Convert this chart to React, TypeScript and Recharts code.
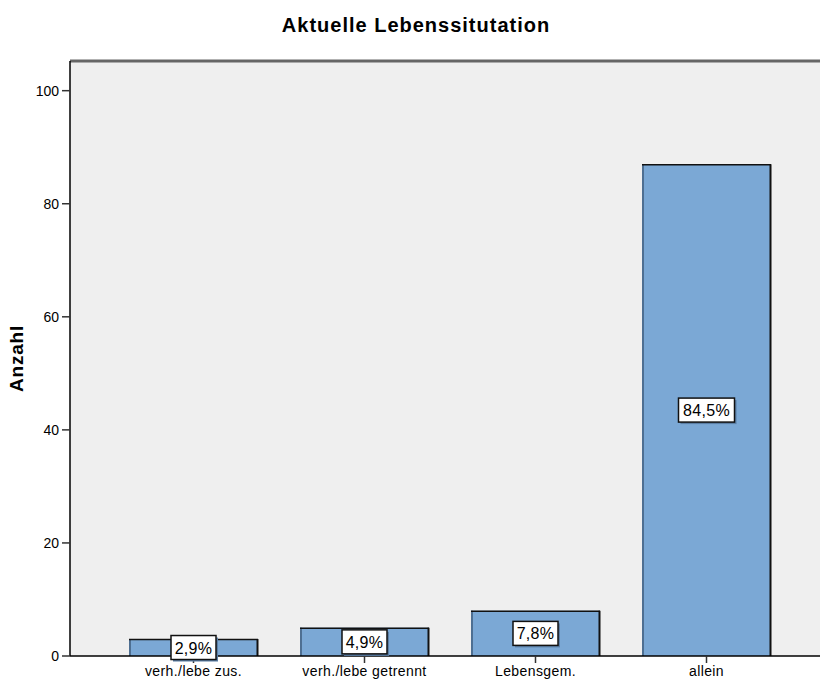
import React from 'react';
import { BarChart, Bar, XAxis, YAxis, CartesianGrid, ReferenceLine, LabelList } from 'recharts';

const categories = ['verh./lebe zus.', 'verh./lebe getrennt', 'Lebensgem.', 'allein'];
const counts = [3, 5, 8, 87];
const percentLabels = ['2,9%', '4,9%', '7,8%', '84,5%'];
const yTicks = [0, 20, 40, 60, 80, 100];
const Y_MAX = 105.25;

const data = categories.map((c, i) => ({ name: c, value: counts[i], pct: percentLabels[i] }));

const FONT = '"Liberation Sans", Arial, sans-serif';

const BarShape = (props: any) => {
  const { x, y, width, height } = props;
  return (
    <g>
      <rect x={x} y={y} width={width} height={height} fill="#7BA8D5" />
      <line x1={x + 1} y1={y} x2={x + 1} y2={y + height} stroke="#4E6F92" strokeWidth={2} />
      <line x1={x} y1={y + 0.5} x2={x + width} y2={y + 0.5} stroke="#111" strokeWidth={1.5} />
      <line x1={x + width - 0.5} y1={y} x2={x + width - 0.5} y2={y + height} stroke="#111" strokeWidth={2} />
    </g>
  );
};

const PctLabel = (props: any) => {
  const { x, y, width, height, value } = props;
  const cx = x + width / 2;
  const cy = y + height / 2;
  const w = String(value).length * 11 + 1;
  const h = 24;
  return (
    <g>
      <rect x={cx - w / 2 + 2} y={cy - h / 2 + 2} width={w} height={h} fill="#5B7FA6" />
      <rect x={cx - w / 2} y={cy - h / 2} width={w} height={h} fill="#fff" stroke="#111" strokeWidth={1.5} />
      <text x={cx} y={cy + 6} textAnchor="middle" fontFamily={FONT} fontSize={16} fill="#000" letterSpacing={0.3}>
        {value}
      </text>
    </g>
  );
};

export default function App() {
  return (
    <div style={{ position: 'absolute', left: 0, top: 0, width: 820, height: 684, background: '#fff' }}>
      <div
        style={{
          position: 'absolute',
          left: 0,
          top: 14,
          width: 832,
          textAlign: 'center',
          fontFamily: FONT,
          fontWeight: 'bold',
          fontSize: 20,
          letterSpacing: 1,
          lineHeight: '22px',
          color: '#000',
        }}
      >
        Aktuelle Lebenssitutation
      </div>
      <BarChart
        width={820}
        height={684}
        data={data}
        margin={{ top: 61, right: 0, bottom: 0, left: 0 }}
        style={{ position: 'absolute', left: 0, top: 0 }}
      >
        <CartesianGrid fill="#EFEFEF" horizontal={false} vertical={false} />
        <XAxis
          dataKey="name"
          height={28}
          padding={{ left: 38, right: 28 }}
          axisLine={{ stroke: '#000', strokeWidth: 1.5 }}
          tickLine={{ stroke: '#333', strokeWidth: 1.5 }}
          tickSize={7}
          tickMargin={3}
          tick={{ fill: '#000', fontSize: 14, fontFamily: FONT, letterSpacing: 0.4 }}
          interval={0}
        />
        <YAxis
          width={70}
          domain={[0, Y_MAX]}
          ticks={yTicks}
          allowDataOverflow
          axisLine={{ stroke: '#000', strokeWidth: 1.5 }}
          tickLine={{ stroke: '#333', strokeWidth: 1.5 }}
          tickSize={8}
          tickMargin={3}
          tick={{ fill: '#000', fontSize: 14, fontFamily: FONT }}
          label={{
            value: 'Anzahl',
            angle: -90,
            position: 'insideLeft',
            offset: 0,
            dx: 16,
            style: { textAnchor: 'middle', fontFamily: FONT, fontWeight: 'bold', fontSize: 19, letterSpacing: 0.8, fill: '#000' },
          }}
        />
        <ReferenceLine y={Y_MAX} stroke="#666" strokeWidth={3} ifOverflow="visible" />
        <Bar dataKey="value" barSize={129} shape={<BarShape />} isAnimationActive={false}>
          <LabelList dataKey="pct" content={<PctLabel />} />
        </Bar>
      </BarChart>
    </div>
  );
}
